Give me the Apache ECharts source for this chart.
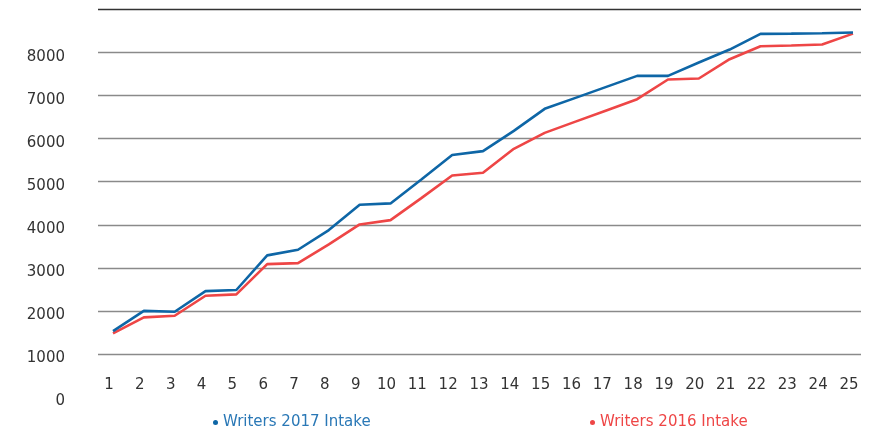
<!DOCTYPE html>
<html>
<head>
<meta charset="utf-8">
<script src="https://cdn.jsdelivr.net/npm/echarts@6/dist/echarts.min.js"></script>
<style>
html,body{margin:0;padding:0;background:#fff;}
#chart{width:879px;height:431px;}
</style>
</head>
<body>
<div id="chart"></div>
<script>
const categories = ['1','2','3','4','5','6','7','8','9','10','11','12','13','14','15','16','17','18','19','20','21','22','23','24','25'];
const writers2017 = [1530, 2000, 1980, 2460, 2485, 3290, 3420, 3876, 4464, 4496, 5053, 5620, 5710, 6182, 6693, 6948, 7203, 7458, 7458, 7768, 8070, 8433, 8440, 8450, 8465];
const writers2016 = [1478, 1850, 1887, 2352, 2384, 3087, 3110, 3544, 4008, 4108, 4619, 5146, 5207, 5764, 6135, 6396, 6656, 6917, 7374, 7397, 7846, 8148, 8163, 8187, 8440];
const seriesNames = ['Writers 2017 Intake', 'Writers 2016 Intake'];
const yMin = 0, yMax = 9000, yStep = 1000;

const BLUE = '#0e66a6', RED = '#ee4646';
const FONT = 'DejaVu Sans';
const gridColors = ['rgba(0,0,0,0)','#8a8a8a','#8a8a8a','#8a8a8a','#8a8a8a','#8a8a8a','#8a8a8a','#8a8a8a','#8a8a8a','#333333'];

const chart = echarts.init(document.getElementById('chart'));
chart.setOption({
  animation: false,
  backgroundColor: '#fff',
  grid: [
    {left: 98, right: 18, top: 9.5, bottom: 34},
    {left: 97.6, right: 10.6, top: 9.5, bottom: 34}
  ],
  legend: [
    {data: [{name: seriesNames[0], textStyle: {color: '#2a78b6'}}], left: 208, top: 410, icon: 'circle', itemWidth: 5, itemHeight: 5,
     textStyle: {fontFamily: FONT, fontSize: 15}},
    {data: [{name: seriesNames[1], textStyle: {color: RED}}], left: 585, top: 410, icon: 'circle', itemWidth: 5, itemHeight: 5,
     textStyle: {fontFamily: FONT, fontSize: 15}}
  ],
  xAxis: [
    {gridIndex: 0, type: 'category', data: categories, show: false},
    {gridIndex: 1, type: 'category', data: categories, boundaryGap: true,
     axisLine: {show: false}, axisTick: {show: false}, splitLine: {show: false},
     axisLabel: {interval: 0, margin: -12, verticalAlign: 'middle', padding: [0, 8, 0, 0],
       color: '#333', fontFamily: FONT, fontSize: 15}}
  ],
  yAxis: [
    {gridIndex: 0, type: 'value', min: yMin, max: yMax, interval: yStep,
     axisLine: {show: false}, axisTick: {show: false},
     axisLabel: {margin: 33, color: '#333', fontFamily: FONT, fontSize: 15, verticalAlign: 'top', lineHeight: 9,
       formatter: v => (v === yMax ? '' : String(v))},
     splitLine: {show: true, lineStyle: {color: gridColors, width: 1.3}}},
    {gridIndex: 1, type: 'value', min: yMin, max: yMax, interval: yStep, show: false, splitLine: {show: false}}
  ],
  series: [
    {name: seriesNames[0], type: 'line', xAxisIndex: 1, yAxisIndex: 1, data: writers2017,
     symbol: 'none', lineStyle: {color: BLUE, width: 2.6}, itemStyle: {color: BLUE}, z: 3},
    {name: seriesNames[1], type: 'line', xAxisIndex: 1, yAxisIndex: 1, data: writers2016,
     symbol: 'none', lineStyle: {color: RED, width: 2.6}, itemStyle: {color: RED}, z: 2}
  ]
});
</script>
</body>
</html>
